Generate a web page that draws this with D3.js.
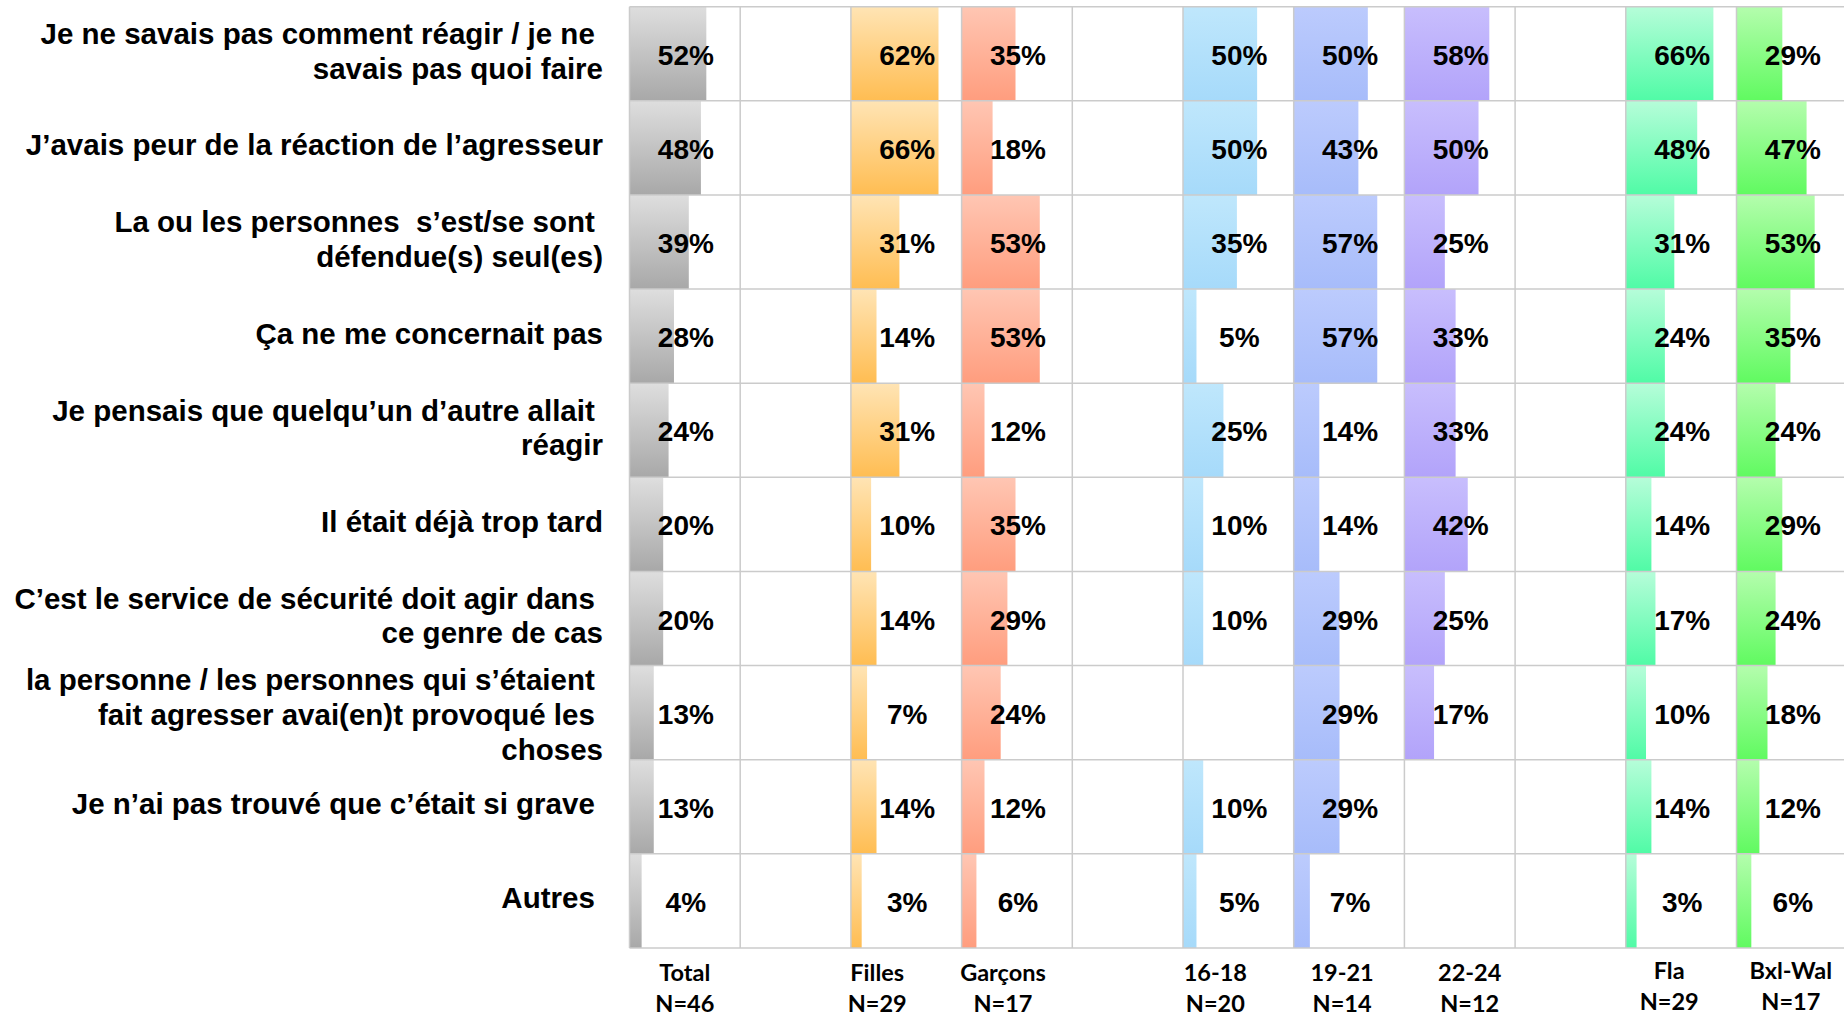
<!DOCTYPE html>
<html>
<head>
<meta charset="utf-8">
<script src="https://cdn.jsdelivr.net/npm/d3@7"></script>
<style>
  html, body { margin: 0; padding: 0; background: #ffffff; }
  svg { display: block; }
  text { white-space: pre; }
</style>
</head>
<body>
<svg id="chart" width="1844" height="1016"></svg>
<script>
// ---------------- DATA ----------------
const categories = [
  ["Je ne savais pas comment réagir / je ne ", "savais pas quoi faire"],
  ["J’avais peur de la réaction de l’agresseur"],
  ["La ou les personnes  s’est/se sont ", "défendue(s) seul(es)"],
  ["Ça ne me concernait pas"],
  ["Je pensais que quelqu’un d’autre allait ", "réagir"],
  ["Il était déjà trop tard"],
  ["C’est le service de sécurité doit agir dans ", "ce genre de cas"],
  ["la personne / les personnes qui s’étaient ", "fait agresser avai(en)t provoqué les ", "choses"],
  ["Je n’ai pas trouvé que c’était si grave "],
  ["Autres "]
];

const seriesNames = ["Total", "Filles", "Garçons", "16-18", "19-21", "22-24", "Fla", "Bxl-Wal"];
const seriesN     = ["N=46", "N=29", "N=17", "N=20", "N=14", "N=12", "N=29", "N=17"];

const total   = [52, 48, 39, 28, 24, 20, 20, 13, 13, 4];
const filles  = [62, 66, 31, 14, 31, 10, 14, 7, 14, 3];
const garcons = [35, 18, 53, 53, 12, 35, 29, 24, 12, 6];
const age1618 = [50, 50, 35, 5, 25, 10, 10, null, 10, 5];
const age1921 = [50, 43, 57, 57, 14, 14, 29, 29, 29, 7];
const age2224 = [58, 50, 25, 33, 33, 42, 25, 17, null, null];
const fla     = [66, 48, 31, 24, 24, 14, 17, 10, 14, 3];
const bxlwal  = [29, 47, 53, 35, 24, 29, 24, 18, 12, 6];

const seriesValues = [total, filles, garcons, age1618, age1921, age2224, fla, bxlwal];

// ---------------- LAYOUT / STYLE ----------------
const W = 1844, H = 1016;
const plotLeft = 629.5, colW = 110.7, nSlots = 11;
const plotTop = 6.7, plotBottom = 948;
const slotOf = [0, 2, 3, 5, 6, 7, 9, 10];          // which column slot each series occupies
const footerDx = [0, -29, -14, -23, -7, 10, -12, -1]; // horizontal nudge of footer labels
const footerDy = [0, 0, 0, 0, 0, 0, -2, -2];
const gradients = [
  ["#dedede", "#a8a8a8"],
  ["#ffe4b4", "#ffbd52"],
  ["#ffc6b3", "#ff9d7e"],
  ["#bfe7fc", "#a6dafa"],
  ["#bccbfd", "#a7bcfa"],
  ["#c8befd", "#b2a3fa"],
  ["#b6fdd9", "#50fba6"],
  ["#b4fdad", "#60fa60"]
];

const svg = d3.select("#chart");
svg.append("rect").attr("width", W).attr("height", H).attr("fill", "#ffffff");

const defs = svg.append("defs");
gradients.forEach((g, i) => {
  const lg = defs.append("linearGradient").attr("id", "grad" + i)
    .attr("x1", 0).attr("y1", 0).attr("x2", 0).attr("y2", 1);
  lg.append("stop").attr("offset", "0%").attr("stop-color", g[0]);
  lg.append("stop").attr("offset", "100%").attr("stop-color", g[1]);
});

const rowIdx = d3.range(categories.length);
const y = d3.scaleBand().domain(rowIdx).range([plotTop, plotBottom]).padding(0);
const slot = d3.scaleBand().domain(d3.range(nSlots)).range([plotLeft, plotLeft + nSlots * colW]).padding(0);
const xv = d3.scaleLinear().domain([-5, 60]).range([0, 87.6]).clamp(true);

// bars
seriesValues.forEach((vals, si) => {
  const x0 = slot(slotOf[si]);
  const g = svg.append("g").attr("class", "series s" + si);
  g.selectAll("rect")
    .data(vals.map((v, r) => ({ v, r })).filter(d => d.v !== null))
    .join("rect")
    .attr("x", x0)
    .attr("y", d => y(d.r))
    .attr("width", d => xv(d.v))
    .attr("height", y.bandwidth())
    .attr("fill", "url(#grad" + si + ")");
});

// grid
const grid = svg.append("g").attr("stroke", "#cbcbcb").attr("stroke-width", 1.5);
d3.range(categories.length + 1).forEach(i => {
  const yy = i < categories.length ? y(i) : plotBottom;
  grid.append("line").attr("x1", plotLeft).attr("x2", W).attr("y1", yy).attr("y2", yy);
});
d3.range(nSlots + 1).forEach(i => {
  const xx = plotLeft + i * colW;
  grid.append("line").attr("x1", xx).attr("x2", xx).attr("y1", plotTop).attr("y2", plotBottom);
});

// value labels
seriesValues.forEach((vals, si) => {
  const cx = slot(slotOf[si]) + colW / 2 + 1;
  svg.append("g").selectAll("text")
    .data(vals.map((v, r) => ({ v, r })).filter(d => d.v !== null))
    .join("text")
    .attr("x", cx)
    .attr("y", d => y(d.r) + y.bandwidth() / 2 + 11)
    .attr("text-anchor", "middle")
    .attr("font-family", "'Liberation Sans', Arial, sans-serif")
    .attr("font-weight", "bold")
    .attr("font-size", 28)
    .attr("fill", "#000")
    .text(d => d.v + "%");
});

// category labels (left)
const catG = svg.append("g")
  .attr("font-family", "'Liberation Sans', Arial, sans-serif")
  .attr("font-weight", "bold")
  .attr("font-size", 29.5)
  .attr("fill", "#000")
  .attr("text-anchor", "end");
categories.forEach((lines, r) => {
  const three = lines.length >= 3;
  const lineH = three ? 35 : 34.5;
  const c = y(r) + y.bandwidth() / 2 + (three ? 2 : -3);
  const startC = c - (lines.length - 1) * lineH / 2;
  lines.forEach((ln, k) => {
    catG.append("text")
      .attr("x", 603)
      .attr("y", startC + k * lineH + 10.5)
      .attr("xml:space", "preserve")
      .text(ln);
  });
});

// footer labels
const footG = svg.append("g")
  .attr("font-family", "Lato, 'Open Sans', sans-serif")
  .attr("font-weight", "bold")
  .attr("font-size", 23.5)
  .attr("fill", "#000")
  .attr("text-anchor", "middle");
seriesNames.forEach((name, si) => {
  const cx = slot(slotOf[si]) + colW / 2 + footerDx[si];
  footG.append("text").attr("x", cx).attr("y", 981 + footerDy[si]).text(name);
  footG.append("text").attr("x", cx).attr("y", 1012 + footerDy[si]).text(seriesN[si]);
});
</script>
</body>
</html>
